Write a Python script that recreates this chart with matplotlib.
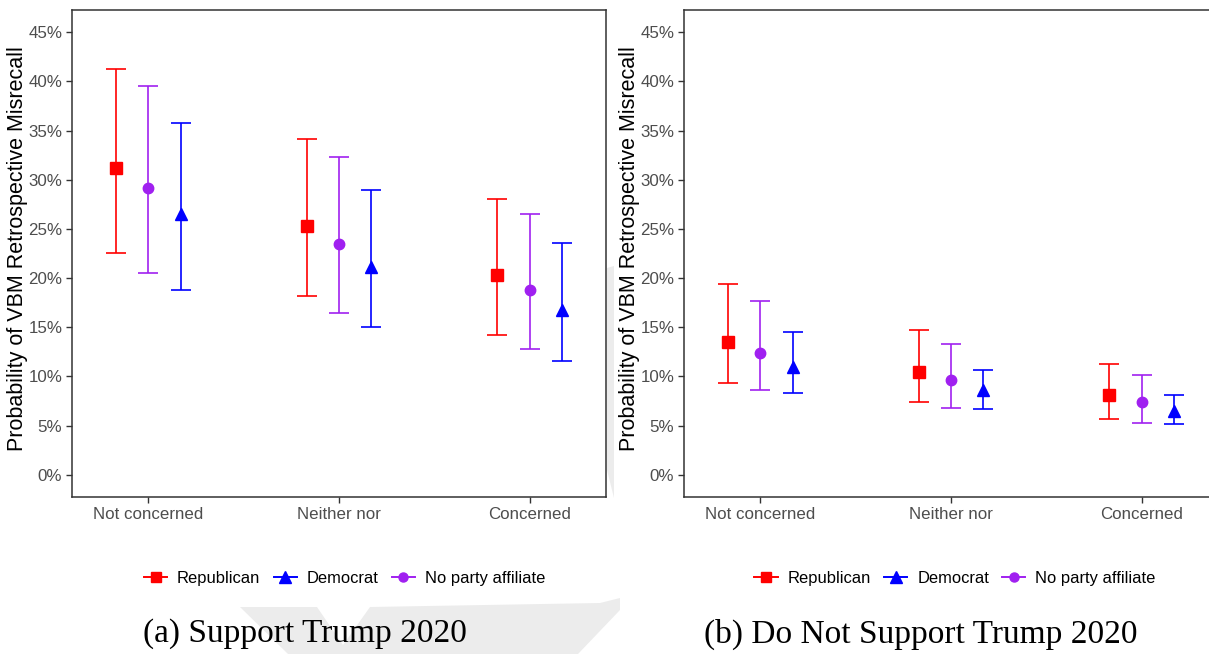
import matplotlib.pyplot as plt
from matplotlib.lines import Line2D
from matplotlib.patches import Polygon
from matplotlib.ticker import FuncFormatter

plt.rcParams['font.family'] = ['Liberation Sans', 'DejaVu Sans']

categories = ["Not concerned", "Neither nor", "Concerned"]
parties = ["Republican", "No party affiliate", "Democrat"]
legend_order = ["Republican", "Democrat", "No party affiliate"]

# (a) support Trump 2020 -- estimates and 95% CI, in percent
sup_rep = [31.2, 25.3, 20.3]
sup_rep_lo = [22.6, 18.2, 14.2]
sup_rep_hi = [41.3, 34.1, 28.0]
sup_npa = [29.2, 23.5, 18.8]
sup_npa_lo = [20.5, 16.5, 12.8]
sup_npa_hi = [39.5, 32.3, 26.5]
sup_dem = [26.5, 21.1, 16.8]
sup_dem_lo = [18.8, 15.0, 11.6]
sup_dem_hi = [35.8, 29.0, 23.6]

# (b) do not support Trump 2020
nos_rep = [13.5, 10.5, 8.1]
nos_rep_lo = [9.3, 7.4, 5.7]
nos_rep_hi = [19.4, 14.7, 11.3]
nos_npa = [12.4, 9.6, 7.4]
nos_npa_lo = [8.6, 6.8, 5.3]
nos_npa_hi = [17.7, 13.3, 10.2]
nos_dem = [11.0, 8.6, 6.5]
nos_dem_lo = [8.3, 6.7, 5.2]
nos_dem_hi = [14.5, 10.7, 8.1]

colors = {"Republican": "#ff0000", "No party affiliate": "#a020f0", "Democrat": "#0000ff"}
markers = {"Republican": "s", "No party affiliate": "o", "Democrat": "^"}
msizes = {"Republican": 8, "No party affiliate": 7.5, "Democrat": 9}
offsets = {"Republican": -0.17, "No party affiliate": 0.0, "Democrat": 0.17}

panels = [
    {"Republican": (sup_rep, sup_rep_lo, sup_rep_hi),
     "No party affiliate": (sup_npa, sup_npa_lo, sup_npa_hi),
     "Democrat": (sup_dem, sup_dem_lo, sup_dem_hi)},
    {"Republican": (nos_rep, nos_rep_lo, nos_rep_hi),
     "No party affiliate": (nos_npa, nos_npa_lo, nos_npa_hi),
     "Democrat": (nos_dem, nos_dem_lo, nos_dem_hi)},
]
captions = ["(a) Support Trump 2020", "(b) Do Not Support Trump 2020"]
yticks = [0, 5, 10, 15, 20, 25, 30, 35, 40, 45]

W, H = 1209, 654
fig = plt.figure(figsize=(W / 100, H / 100), dpi=100)

# faint grey watermark behind the page (pixel outline -> figure fraction)
wm = [[(240, 607), (317, 607), (343, 645), (370, 607), (600, 603), (620, 598),
       (620, 610), (578, 654), (288, 654)],
      [(607, 268), (614, 266), (614, 498), (607, 470)]]
for poly in wm:
    fig.patches.append(Polygon([(px / W, 1 - py / H) for px, py in poly], closed=True,
                               transform=fig.transFigure, facecolor="#ececec",
                               edgecolor="none", zorder=-5))

ax_pos = [[72 / W, 1 - 497 / H, 534 / W, 487 / H], [684 / W, 1 - 497 / H, 534 / W, 487 / H]]
legend_x = [0.285, 0.79]
caption_x = [305 / W, 921 / W]

for k, data in enumerate(panels):
    ax = fig.add_axes(ax_pos[k])
    ax.patch.set_alpha(0)
    x = list(range(1, len(categories) + 1))
    for p in parties:
        est, lo, hi = data[p]
        xs = [xi + offsets[p] for xi in x]
        err = [[e - l for e, l in zip(est, lo)], [h - e for e, h in zip(est, hi)]]
        ax.errorbar(xs, est, yerr=err, fmt="none", ecolor=colors[p], elinewidth=1.4,
                    capsize=7, capthick=1.4, alpha=0.85, zorder=2)
        ax.plot(xs, est, linestyle="none", marker=markers[p], markersize=msizes[p],
                color=colors[p], zorder=3)
    ax.set_xlim(0.6, 3.4)
    ax.set_ylim(-2.25, 47.25)
    ax.set_xticks(x)
    ax.set_xticklabels(categories)
    ax.set_yticks(yticks)
    ax.yaxis.set_major_formatter(FuncFormatter(lambda v, pos: "%d%%" % v))
    ax.tick_params(axis="both", direction="out", length=4, width=1, color="#333333",
                   labelcolor="#4d4d4d", labelsize=12.2, pad=3)
    for s in ax.spines.values():
        s.set_color("#333333")
        s.set_linewidth(1.1)
    ax.set_ylabel("Probability of VBM Retrospective Misrecall", fontsize=15.5)
    ax.yaxis.set_label_coords(-0.083, 0.51)

    handles = [Line2D([0], [0], color=colors[p], marker=markers[p], markersize=msizes[p] - 1,
                      linewidth=1.4) for p in legend_order]
    fig.legend(handles, legend_order, loc="center", bbox_to_anchor=(legend_x[k], 0.116),
               ncol=3, frameon=False, fontsize=11.9, handlelength=1.4, handletextpad=0.6,
               columnspacing=0.8)
    fig.text(caption_x[k], 1 - 634 / H, captions[k], ha="center", va="center",
             fontsize=24, family="Liberation Serif")

fig.savefig("out.png", dpi=100)
